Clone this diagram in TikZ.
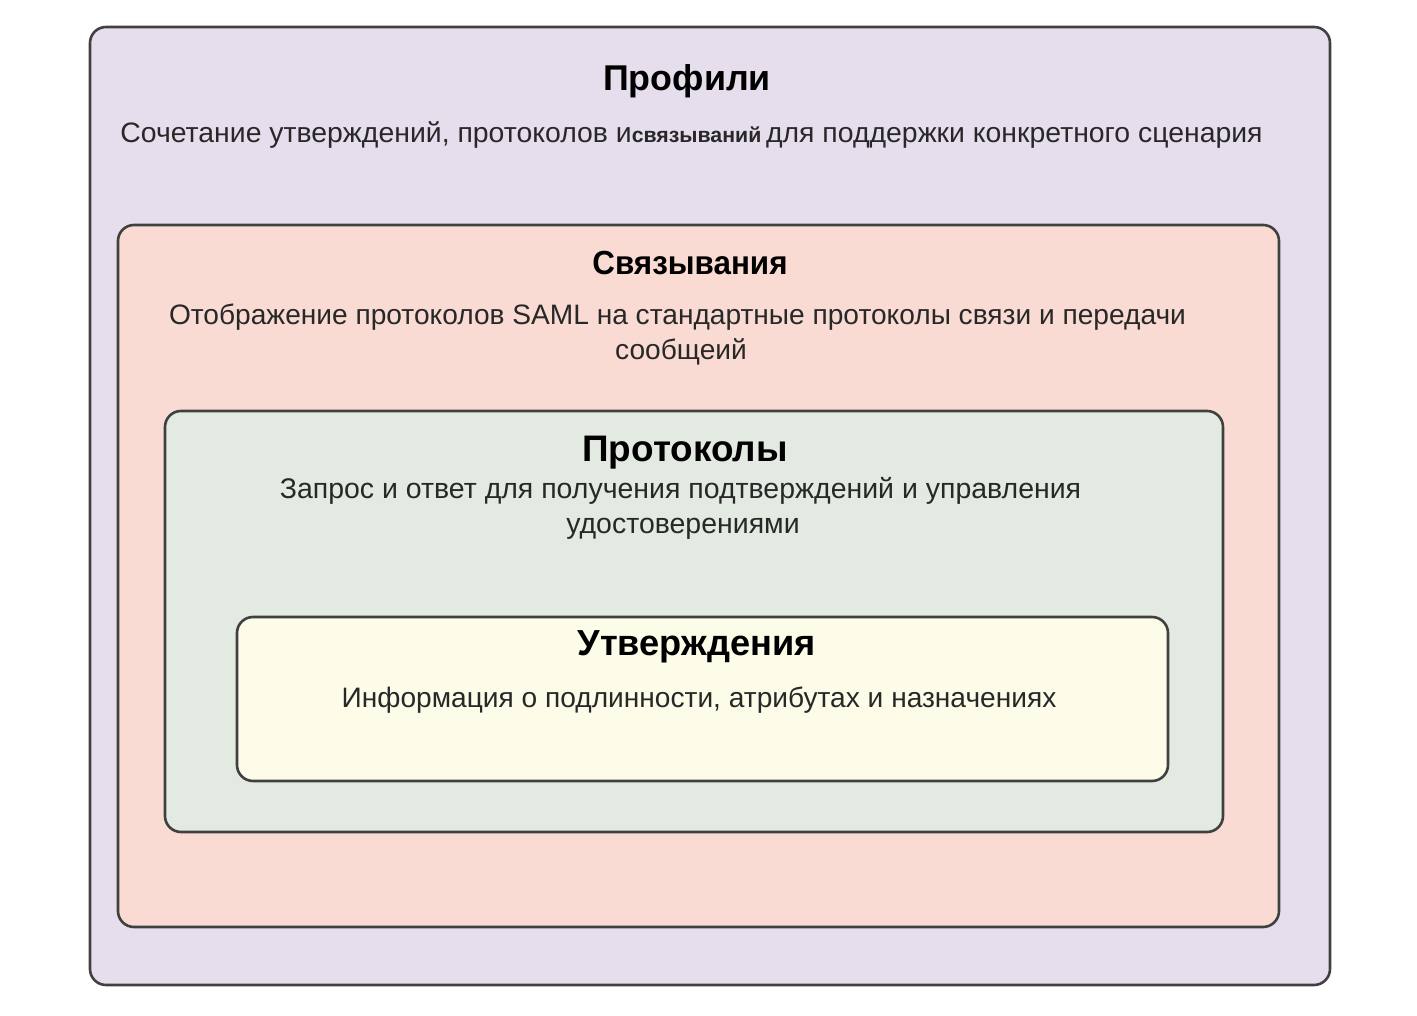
\documentclass[tikz,border=0pt]{standalone}
\usepackage{fontspec}
\setmainfont{Liberation Sans}
\begin{document}
\begin{tikzpicture}
                                % Frame of the picture
                                \useasboundingbox (0.000000,0.000000) rectangle (14.170000,10.160000);
                                \tikzset{layerbox/.style={draw=r64g64b64, line width=0.026cm, rounded corners=0.160000cm},
                                         layertitle/.style={inner sep=0pt, font=\fontsize{10.5}{12}\selectfont\bfseries},
                                         layertext/.style={inner sep=0pt, font=\fontsize{8}{9.6}\selectfont, text=r40g40b40}}
                                {\footnotesize

                                % Changing color 64 64 64
                                \definecolor{r64g64b64}{rgb}{0.250000,0.250000,0.250000}%
                                \definecolor{r40g40b40}{rgb}{0.156863,0.156863,0.156863}%

                                % Changing color 230 222 236
                                \definecolor{r230g222b236}{rgb}{0.901961,0.870588,0.925490}%
                                % Drawing box Profiles
                                \draw [layerbox, fill=r230g222b236] (0.900000,0.310000) rectangle (13.300000,9.890000);%

                                % Changing color 249 219 211
                                \definecolor{r249g219b211}{rgb}{0.976471,0.858824,0.827451}%
                                % Drawing box Bindings
                                \draw [layerbox, fill=r249g219b211] (1.180000,0.890000) rectangle (12.790000,7.910000);%

                                % Changing color 226 234 225
                                \definecolor{r226g234b225}{rgb}{0.886275,0.917647,0.882353}%
                                % Drawing box Protocols
                                \draw [layerbox, fill=r226g234b225] (1.650000,1.840000) rectangle (12.230000,6.050000);%

                                % Changing color 253 252 232
                                \definecolor{r253g252b232}{rgb}{0.992157,0.988235,0.909804}%
                                % Drawing box Assertions
                                \draw [layerbox, fill=r253g252b232] (2.370000,2.350000) rectangle (11.680000,3.990000);%

                                % Marking text of box Profiles
                                \node [layertitle, font=\fontsize{10.2}{12}\selectfont\bfseries] (profilestitle) at (6.870000,9.350000) {Профили};%
                                \node [layertext] (profilestext) at (6.915000,8.810000) {\scalebox{1.01}[1]{Сочетание утверждений, протоколов и{\fontsize{6}{7}\selectfont\bfseries связываний}\,для поддержки конкретного сценария}};%

                                % Marking text of box Bindings
                                \node [layertitle, font=\fontsize{9.5}{11}\selectfont\bfseries] (bindingstitle) at (6.900000,7.530000) {\scalebox{0.94}[1]{Связывания}};%
                                \node [layertext] (bindingstext1) at (6.775000,6.990000) {Отображение протоколов SAML на стандартные протоколы связи и передачи};%
                                \node [layertext] (bindingstext2) at (6.810000,6.640000) {сообщеий};%

                                % Marking text of box Protocols
                                \node [layertitle] (protocolstitle) at (6.850000,5.630000) {Протоколы};%
                                \node [layertext, font=\fontsize{8.1}{9.6}\selectfont] (protocolstext1) at (6.805000,5.250000) {Запрос и ответ для получения подтверждений и управления};%
                                \node [layertext, font=\fontsize{8.1}{9.6}\selectfont] (protocolstext2) at (6.830000,4.870000) {удостоверениями};%

                                % Marking text of box Assertions
                                \node [layertitle, font=\fontsize{10.3}{12}\selectfont\bfseries] (assertionstitle) at (6.965000,3.690000) {Утверждения};%
                                \node [layertext] (assertionstext) at (6.990000,3.160000) {Информация о подлинности, атрибутах и назначениях};%
                                \color{black}
                                }
                                \end{tikzpicture}
\end{document}
